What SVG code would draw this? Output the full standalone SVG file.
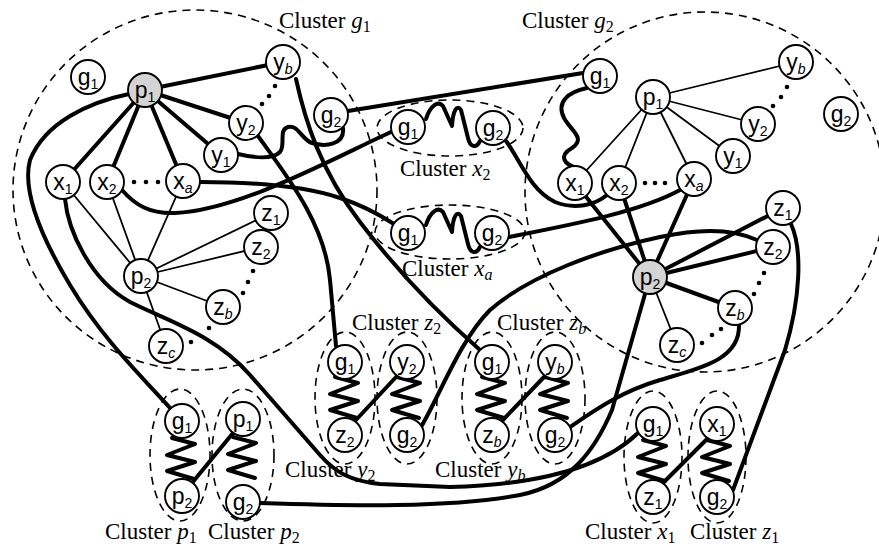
<svg xmlns="http://www.w3.org/2000/svg" width="879" height="546" viewBox="0 0 879 546">
<defs>
<style>
.bg{fill:#fff}
.dash{fill:none;stroke:#000;stroke-width:1.6;stroke-dasharray:8 6}
.thick{fill:none;stroke:#000;stroke-width:4;stroke-linecap:round;stroke-linejoin:round}
.thin{fill:none;stroke:#000;stroke-width:1.8;stroke-linecap:round}
.nd circle{fill:#fff;stroke:#000;stroke-width:1.9}
.nd circle.hub{fill:#d4d4d4}
.nd text{font-family:"Liberation Sans",Arial,sans-serif;font-size:23px;text-anchor:middle}
.sb{font-size:14px}
.it{font-style:italic}
.cl{font-family:"Liberation Serif","Times New Roman",serif;font-size:23px}
.cs{font-size:16px}
.dot{fill:#000}
</style>
<path id="hspring" d="M 426 119 C 430 106, 438 100, 443 106 L 452 126 C 453 110, 457 104, 461 110 L 468 138 C 470 147, 476 149, 480 141"/>
<path id="vspring" d="M -10 0 L 13 6 L -15 17 L 13 24 L -15 33 L 12 41"/>
</defs>
<rect class="bg" x="0" y="0" width="879" height="546"/>

<!-- dashed cluster outlines -->
<g id="outlines">
<ellipse class="dash" cx="195" cy="190" rx="182" ry="180"/>
<ellipse class="dash" cx="705" cy="192" rx="180" ry="180"/>
<ellipse class="dash" cx="450" cy="128" rx="73" ry="28"/>
<ellipse class="dash" cx="450" cy="232" rx="75" ry="27"/>
<ellipse class="dash" cx="180" cy="455" rx="30" ry="66"/>
<ellipse class="dash" cx="243" cy="455" rx="31" ry="66"/>
<ellipse class="dash" cx="345" cy="398" rx="30" ry="66"/>
<ellipse class="dash" cx="407" cy="398" rx="30" ry="66"/>
<ellipse class="dash" cx="492" cy="398" rx="30" ry="66"/>
<ellipse class="dash" cx="555" cy="398" rx="30" ry="66"/>
<ellipse class="dash" cx="653" cy="457" rx="29" ry="66"/>
<ellipse class="dash" cx="717" cy="457" rx="29" ry="66"/>
</g>

<!-- connectors -->
<g id="connectors">
<!-- left cluster: p1 fan (thick), p2 fan (thin) -->
<line class="thick" x1="145" y1="90" x2="283" y2="62"/>
<line class="thick" x1="145" y1="90" x2="246" y2="123"/>
<line class="thick" x1="145" y1="90" x2="221" y2="155"/>
<line class="thick" x1="145" y1="90" x2="63" y2="182"/>
<line class="thick" x1="145" y1="90" x2="107" y2="182"/>
<line class="thick" x1="145" y1="90" x2="183" y2="181"/>
<line class="thin" x1="141" y1="276" x2="63" y2="182"/>
<line class="thin" x1="141" y1="276" x2="107" y2="182"/>
<line class="thin" x1="141" y1="276" x2="183" y2="181"/>
<line class="thin" x1="141" y1="276" x2="271" y2="213"/>
<line class="thin" x1="141" y1="276" x2="261" y2="247"/>
<line class="thin" x1="141" y1="276" x2="223" y2="307"/>
<line class="thin" x1="141" y1="276" x2="166" y2="346"/>
<!-- right cluster: p1 fan (thin), p2 fan (thick) -->
<line class="thin" x1="653" y1="97" x2="575" y2="183"/>
<line class="thin" x1="653" y1="97" x2="619" y2="183"/>
<line class="thin" x1="653" y1="97" x2="694" y2="179"/>
<line class="thin" x1="653" y1="97" x2="733" y2="156"/>
<line class="thin" x1="653" y1="97" x2="758" y2="124"/>
<line class="thin" x1="653" y1="97" x2="796" y2="62"/>
<line class="thick" x1="650" y1="277" x2="575" y2="183"/>
<line class="thick" x1="650" y1="277" x2="619" y2="183"/>
<line class="thick" x1="650" y1="277" x2="694" y2="179"/>
<line class="thick" x1="650" y1="277" x2="783" y2="208"/>
<line class="thick" x1="650" y1="277" x2="773" y2="247"/>
<line class="thick" x1="650" y1="277" x2="735" y2="308"/>
<line class="thin" x1="650" y1="277" x2="677" y2="345"/>

<!-- long links -->
<path class="thick" d="M 129 94 C 90 102, 45 122, 30 160 C 22 190, 40 235, 70 285 C 100 335, 135 370, 171 409"/>
<path class="thick" d="M 65 199 C 68 230, 90 280, 130 302 C 170 322, 215 335, 250 375 L 320 455 C 335 472, 350 481, 380 484 L 450 487 C 530 485, 600 470, 638 433"/>
<path class="thick" d="M 260 503 C 350 506, 450 508, 520 495 C 570 485, 595 450, 612 410 L 645 294"/>
<path class="thick" d="M 258 136 C 290 180, 325 225, 330 280 L 336 346"/>
<path class="thick" d="M 296 79 C 305 120, 320 170, 360 222 C 395 268, 440 315, 480 350"/>
<path class="thick" d="M 238 154 C 255 158, 272 160, 280 152 C 286 145, 278 130, 288 127 C 298 124, 302 140, 312 143 C 325 147, 345 145, 343 128"/>
<line class="thick" x1="348" y1="111" x2="583" y2="73"/>
<path class="thick" d="M 587 88 C 568 92, 556 102, 564 118 C 572 132, 586 138, 572 148 C 558 156, 564 165, 578 168"/>
<path class="thick" d="M 122 190 C 135 205, 150 214, 175 213 C 240 210, 330 160, 393 131"/>
<path class="thick" d="M 200 182 C 260 182, 310 188, 340 198 C 365 206, 380 215, 394 224"/>
<path class="thick" d="M 506 141 C 520 160, 530 190, 555 202 C 575 210, 595 205, 607 195"/>
<path class="thick" d="M 509 237 C 570 225, 640 212, 680 190"/>
<path class="thick" d="M 421 427 C 440 395, 460 340, 490 310 C 530 275, 600 250, 660 237 C 710 226, 740 232, 757 240"/>
<path class="thick" d="M 570 427 C 595 410, 620 392, 660 380 C 700 368, 740 360, 739 325"/>
<path class="thick" d="M 791 224 C 803 250, 800 300, 785 350 L 733 490"/>

<!-- pair links -->
<line class="thick" x1="192" y1="483" x2="233" y2="433"/>
<line class="thick" x1="355" y1="421" x2="397" y2="376"/>
<line class="thick" x1="502" y1="421" x2="545" y2="376"/>
<line class="thick" x1="663" y1="483" x2="707" y2="439"/>

<!-- springs -->
<use href="#hspring" class="thick"/>
<use href="#hspring" class="thick" transform="translate(0,106)"/>
<use href="#vspring" class="thick" transform="translate(182,438)"/>
<use href="#vspring" class="thick" transform="translate(243,437)"/>
<use href="#vspring" class="thick" transform="translate(345,377)"/>
<use href="#vspring" class="thick" transform="translate(407,377)"/>
<use href="#vspring" class="thick" transform="translate(492,377)"/>
<use href="#vspring" class="thick" transform="translate(555,377)"/>
<use href="#vspring" class="thick" transform="translate(653,440)"/>
<use href="#vspring" class="thick" transform="translate(717,440)"/>
</g>

<!-- ellipsis dots -->
<g id="dots" class="dot">
<circle cx="134" cy="182" r="2.3"/><circle cx="146" cy="182" r="2.3"/><circle cx="158" cy="182" r="2.3"/>
<circle cx="262" cy="104" r="2.3"/><circle cx="269" cy="96" r="2.3"/><circle cx="275" cy="86" r="2.3"/>
<circle cx="253" cy="271" r="2.3"/><circle cx="248" cy="282" r="2.3"/><circle cx="243" cy="293" r="2.3"/>
<circle cx="209" cy="328" r="2.3"/><circle cx="191" cy="342" r="2.3"/>
<circle cx="645" cy="183" r="2.3"/><circle cx="655" cy="183" r="2.3"/><circle cx="665" cy="183" r="2.3"/>
<circle cx="787" cy="87" r="2.3"/><circle cx="781" cy="97" r="2.3"/><circle cx="773" cy="106" r="2.3"/>
<circle cx="764" cy="273" r="2.3"/><circle cx="759" cy="283" r="2.3"/><circle cx="754" cy="294" r="2.3"/>
<circle cx="721" cy="329" r="2.3"/><circle cx="712" cy="335" r="2.3"/><circle cx="702" cy="343" r="2.3"/>
</g>

<!-- left cluster nodes -->
<g id="L-g1" class="nd"><circle cx="88" cy="77" r="17"/><text x="88" y="85">g<tspan class="sb" dy="4">1</tspan></text></g>
<g id="L-p1" class="nd"><circle class="hub" cx="145" cy="90" r="17"/><text x="145" y="98">p<tspan class="sb" dy="4">1</tspan></text></g>
<g id="L-yb" class="nd"><circle cx="283" cy="62" r="17"/><text x="283" y="70">y<tspan class="sb it" dy="4">b</tspan></text></g>
<g id="L-y2" class="nd"><circle cx="246" cy="123" r="17"/><text x="246" y="131">y<tspan class="sb" dy="4">2</tspan></text></g>
<g id="L-y1" class="nd"><circle cx="221" cy="155" r="17"/><text x="221" y="163">y<tspan class="sb" dy="4">1</tspan></text></g>
<g id="L-x1" class="nd"><circle cx="63" cy="182" r="17"/><text x="63" y="190">x<tspan class="sb" dy="4">1</tspan></text></g>
<g id="L-x2" class="nd"><circle cx="107" cy="182" r="17"/><text x="107" y="190">x<tspan class="sb" dy="4">2</tspan></text></g>
<g id="L-xa" class="nd"><circle cx="183" cy="181" r="17"/><text x="183" y="189">x<tspan class="sb it" dy="4">a</tspan></text></g>
<g id="L-g2" class="nd"><circle cx="331" cy="115" r="17"/><text x="331" y="123">g<tspan class="sb" dy="4">2</tspan></text></g>
<g id="L-z1" class="nd"><circle cx="271" cy="213" r="17"/><text x="271" y="221">z<tspan class="sb" dy="4">1</tspan></text></g>
<g id="L-z2" class="nd"><circle cx="261" cy="247" r="17"/><text x="261" y="255">z<tspan class="sb" dy="4">2</tspan></text></g>
<g id="L-p2" class="nd"><circle cx="141" cy="276" r="17"/><text x="141" y="284">p<tspan class="sb" dy="4">2</tspan></text></g>
<g id="L-zb" class="nd"><circle cx="223" cy="307" r="17"/><text x="223" y="315">z<tspan class="sb it" dy="4">b</tspan></text></g>
<g id="L-zc" class="nd"><circle cx="166" cy="346" r="17"/><text x="166" y="354">z<tspan class="sb it" dy="4">c</tspan></text></g>

<!-- right cluster nodes -->
<g id="R-g1" class="nd"><circle cx="600" cy="76" r="17"/><text x="600" y="84">g<tspan class="sb" dy="4">1</tspan></text></g>
<g id="R-p1" class="nd"><circle cx="653" cy="97" r="17"/><text x="653" y="105">p<tspan class="sb" dy="4">1</tspan></text></g>
<g id="R-yb" class="nd"><circle cx="796" cy="62" r="17"/><text x="796" y="70">y<tspan class="sb it" dy="4">b</tspan></text></g>
<g id="R-y2" class="nd"><circle cx="758" cy="124" r="17"/><text x="758" y="132">y<tspan class="sb" dy="4">2</tspan></text></g>
<g id="R-y1" class="nd"><circle cx="733" cy="156" r="17"/><text x="733" y="164">y<tspan class="sb" dy="4">1</tspan></text></g>
<g id="R-x1" class="nd"><circle cx="575" cy="183" r="17"/><text x="575" y="191">x<tspan class="sb" dy="4">1</tspan></text></g>
<g id="R-x2" class="nd"><circle cx="619" cy="183" r="17"/><text x="619" y="191">x<tspan class="sb" dy="4">2</tspan></text></g>
<g id="R-xa" class="nd"><circle cx="694" cy="179" r="17"/><text x="694" y="187">x<tspan class="sb it" dy="4">a</tspan></text></g>
<g id="R-g2" class="nd"><circle cx="841" cy="114" r="17"/><text x="841" y="122">g<tspan class="sb" dy="4">2</tspan></text></g>
<g id="R-p2" class="nd"><circle class="hub" cx="650" cy="277" r="17"/><text x="650" y="285">p<tspan class="sb" dy="4">2</tspan></text></g>
<g id="R-z1" class="nd"><circle cx="783" cy="208" r="17"/><text x="783" y="216">z<tspan class="sb" dy="4">1</tspan></text></g>
<g id="R-z2" class="nd"><circle cx="773" cy="247" r="17"/><text x="773" y="255">z<tspan class="sb" dy="4">2</tspan></text></g>
<g id="R-zb" class="nd"><circle cx="735" cy="308" r="17"/><text x="735" y="316">z<tspan class="sb it" dy="4">b</tspan></text></g>
<g id="R-zc" class="nd"><circle cx="677" cy="345" r="17"/><text x="677" y="353">z<tspan class="sb it" dy="4">c</tspan></text></g>

<!-- gadget nodes -->
<g id="X2-g1" class="nd"><circle cx="408" cy="127" r="17"/><text x="408" y="135">g<tspan class="sb" dy="4">1</tspan></text></g>
<g id="X2-g2" class="nd"><circle cx="493" cy="128" r="17"/><text x="493" y="136">g<tspan class="sb" dy="4">2</tspan></text></g>
<g id="Xa-g1" class="nd"><circle cx="408" cy="233" r="17"/><text x="408" y="241">g<tspan class="sb" dy="4">1</tspan></text></g>
<g id="Xa-g2" class="nd"><circle cx="492" cy="233" r="17"/><text x="492" y="241">g<tspan class="sb" dy="4">2</tspan></text></g>
<g id="P1-g1" class="nd"><circle cx="182" cy="421" r="17"/><text x="182" y="429">g<tspan class="sb" dy="4">1</tspan></text></g>
<g id="P1-p2" class="nd"><circle cx="182" cy="496" r="17"/><text x="182" y="504">p<tspan class="sb" dy="4">2</tspan></text></g>
<g id="P2-p1" class="nd"><circle cx="243" cy="419" r="17"/><text x="243" y="427">p<tspan class="sb" dy="4">1</tspan></text></g>
<g id="P2-g2" class="nd"><circle cx="243" cy="502" r="17"/><text x="243" y="510">g<tspan class="sb" dy="4">2</tspan></text></g>
<g id="Z2-g1" class="nd"><circle cx="345" cy="362" r="17"/><text x="345" y="370">g<tspan class="sb" dy="4">1</tspan></text></g>
<g id="Z2-z2" class="nd"><circle cx="345" cy="435" r="17"/><text x="345" y="443">z<tspan class="sb" dy="4">2</tspan></text></g>
<g id="Y2-y2" class="nd"><circle cx="407" cy="362" r="17"/><text x="407" y="370">y<tspan class="sb" dy="4">2</tspan></text></g>
<g id="Y2-g2" class="nd"><circle cx="407" cy="435" r="17"/><text x="407" y="443">g<tspan class="sb" dy="4">2</tspan></text></g>
<g id="Zb-g1" class="nd"><circle cx="492" cy="362" r="17"/><text x="492" y="370">g<tspan class="sb" dy="4">1</tspan></text></g>
<g id="Zb-zb" class="nd"><circle cx="492" cy="435" r="17"/><text x="492" y="443">z<tspan class="sb it" dy="4">b</tspan></text></g>
<g id="Yb-yb" class="nd"><circle cx="555" cy="362" r="17"/><text x="555" y="370">y<tspan class="sb it" dy="4">b</tspan></text></g>
<g id="Yb-g2" class="nd"><circle cx="555" cy="435" r="17"/><text x="555" y="443">g<tspan class="sb" dy="4">2</tspan></text></g>
<g id="X1-g1" class="nd"><circle cx="653" cy="424" r="17"/><text x="653" y="432">g<tspan class="sb" dy="4">1</tspan></text></g>
<g id="X1-z1" class="nd"><circle cx="653" cy="497" r="17"/><text x="653" y="505">z<tspan class="sb" dy="4">1</tspan></text></g>
<g id="Z1-x1" class="nd"><circle cx="717" cy="424" r="17"/><text x="717" y="432">x<tspan class="sb" dy="4">1</tspan></text></g>
<g id="Z1-g2" class="nd"><circle cx="717" cy="497" r="17"/><text x="717" y="505">g<tspan class="sb" dy="4">2</tspan></text></g>

<!-- cluster captions -->
<g id="captions" class="cl">
<text x="279" y="28">Cluster <tspan class="it">g</tspan><tspan class="cs" dy="4">1</tspan></text>
<text x="522" y="28">Cluster <tspan class="it">g</tspan><tspan class="cs" dy="4">2</tspan></text>
<text x="400" y="176">Cluster <tspan class="it">x</tspan><tspan class="cs" dy="4">2</tspan></text>
<text x="402" y="276">Cluster <tspan class="it">x<tspan class="cs" dy="4">a</tspan></tspan></text>
<text x="352" y="330">Cluster <tspan class="it">z</tspan><tspan class="cs" dy="4">2</tspan></text>
<text x="497" y="330">Cluster <tspan class="it">z<tspan class="cs" dy="4">b</tspan></tspan></text>
<text x="285" y="477">Cluster <tspan class="it">y</tspan><tspan class="cs" dy="4">2</tspan></text>
<text x="435" y="477">Cluster <tspan class="it">y<tspan class="cs" dy="4">b</tspan></tspan></text>
<text x="105" y="539">Cluster <tspan class="it">p</tspan><tspan class="cs" dy="4">1</tspan></text>
<text x="208" y="539">Cluster <tspan class="it">p</tspan><tspan class="cs" dy="4">2</tspan></text>
<text x="585" y="539">Cluster <tspan class="it">x</tspan><tspan class="cs" dy="4">1</tspan></text>
<text x="690" y="539">Cluster <tspan class="it">z</tspan><tspan class="cs" dy="4">1</tspan></text>
</g>
</svg>
